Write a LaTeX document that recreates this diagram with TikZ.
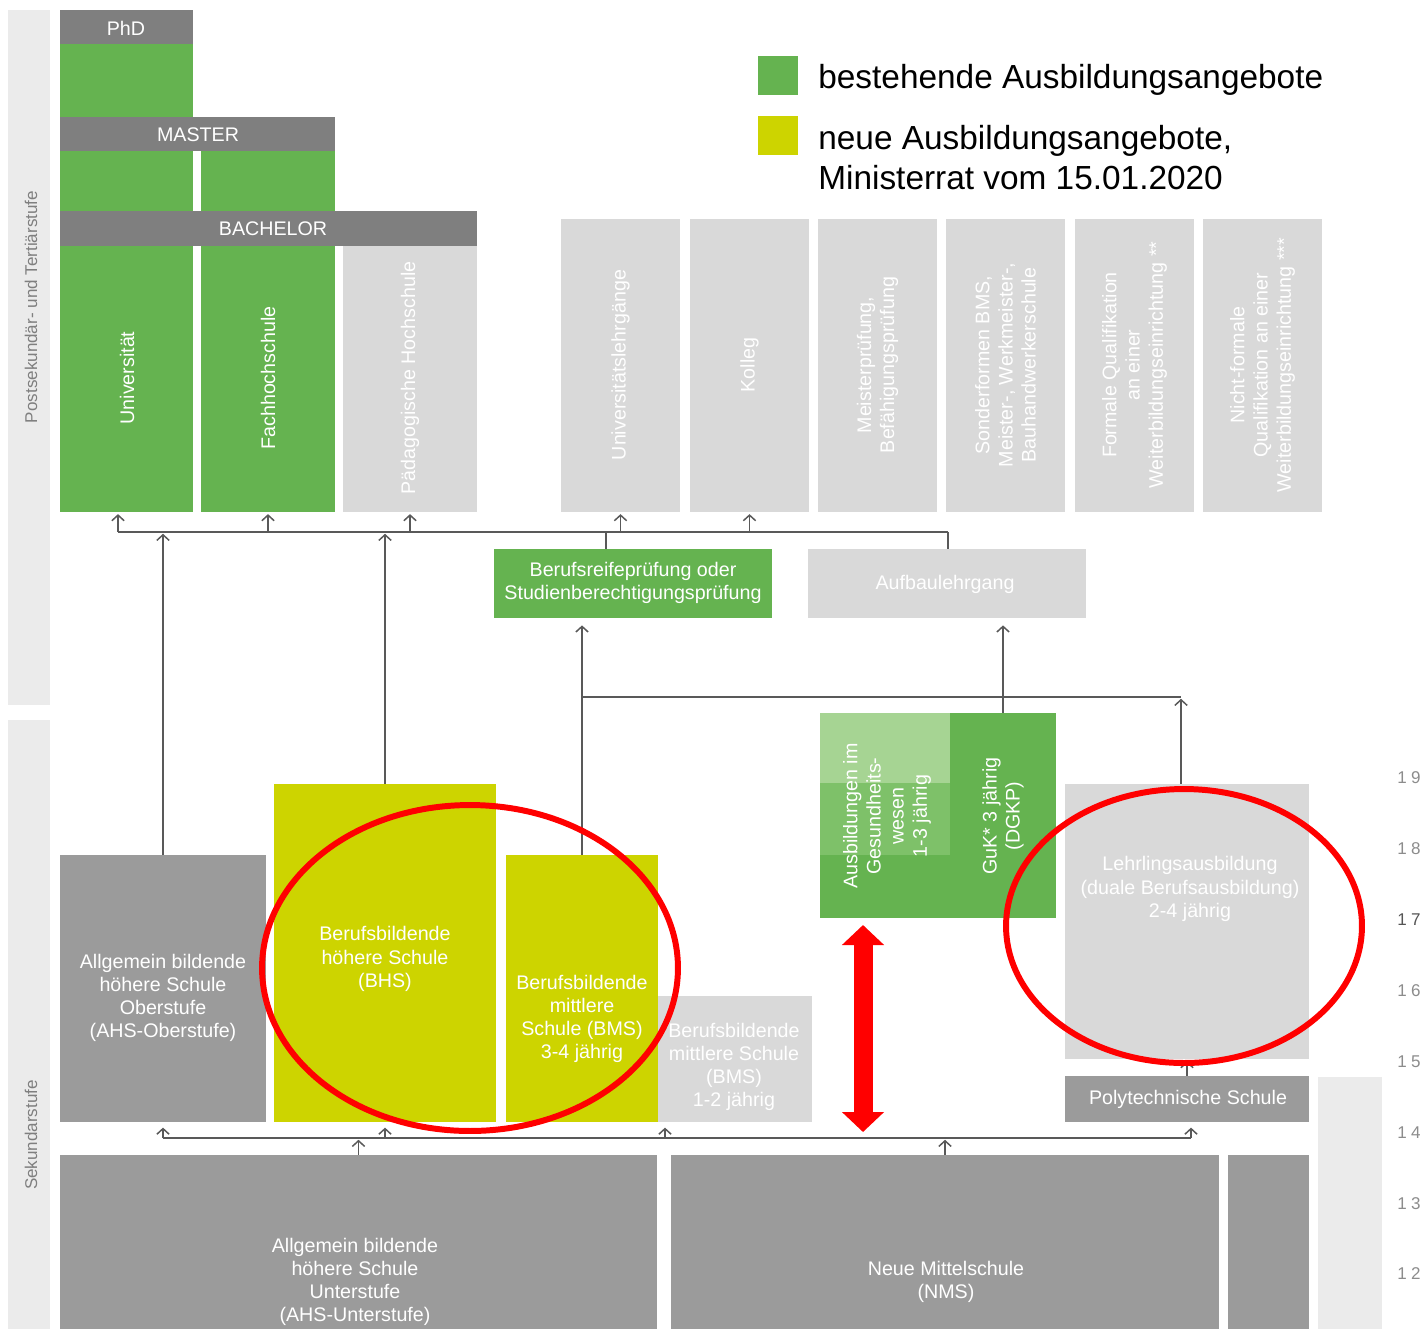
\documentclass[tikz,border=0pt]{standalone}
\usepackage{fontspec}
\setmainfont{Liberation Sans}
\usepackage{tikz}
\usetikzlibrary{fit,arrows.meta}

\definecolor{eduGreen}{HTML}{65B350}
\definecolor{eduLightGreen}{HTML}{A6D493}
\definecolor{eduMidGreen}{HTML}{7EC169}
\definecolor{eduYellow}{HTML}{CDD400}
\definecolor{barGray}{HTML}{7F7F7F}
\definecolor{darkBox}{HTML}{9B9B9B}
\definecolor{lightBox}{HTML}{D9D9D9}
\definecolor{bandGray}{HTML}{EBEBEB}
\definecolor{lineGray}{HTML}{595959}
\definecolor{ageGray}{HTML}{8C8C8C}
\definecolor{ageDark}{HTML}{555555}

\newcommand{\boxfont}{\fontsize{11.2}{13.2}\selectfont}
\newcommand{\legendfont}{\fontsize{19}{22.7}\selectfont}

\tikzset{
  bar/.style={fill=barGray, inner sep=0pt},
  exist/.style={fill=eduGreen, inner sep=0pt},
  new/.style={fill=eduYellow, inner sep=0pt},
  dark/.style={fill=darkBox, inner sep=0pt},
  other/.style={fill=lightBox, inner sep=0pt},
  band/.style={fill=bandGray, inner sep=0pt},
  boxtext/.style={text=white, font=\boxfont, align=center, inner sep=0pt},
  sidetext/.style={text=barGray, font=\fontsize{9.7}{11}\selectfont, inner sep=0pt},
  legendtext/.style={text=black, font=\legendfont, align=left, inner sep=0pt},
  link/.style={draw=lineGray, line width=0.85pt},
  uplink/.style={link, -{Straight Barb[length=3.2pt,width=7pt]}, shorten >=1pt},
  highlight/.style={draw=red, line width=3.4pt},
  redarrow/.style={draw=red, line width=0.38cm,
    {Triangle[length=0.4cm,width=0.82cm]}-{Triangle[length=0.4cm,width=0.82cm]}}
}

% a filled box between two corners: name, style, x1, y1, x2, y2
\newcommand{\eduBox}[6]{
  \node[#2, fit={(#3,#4) (#5,#6)}] (#1) {};
}

\begin{document}
\begin{tikzpicture}[x=0.02cm, y=-0.02cm]
  \useasboundingbox (0,0) rectangle (1422,1329);

  % Draw the side bands
  \eduBox{bandtop}{band}{8}{10}{50}{705}
  \eduBox{bandbot}{band}{8}{720}{50}{1329}
  \eduBox{bandright}{band}{1318}{1077}{1382}{1329}
  \node[sidetext, rotate=90] at (31,307) {Postsekundär- und Tertiärstufe};
  \node[sidetext, rotate=90] at (31,1135) {Sekundarstufe};

  % Tertiary columns with the degree bars
  \eduBox{uni}{exist}{60}{44}{193}{512}
  \eduBox{fh}{exist}{201}{151}{335}{512}
  \eduBox{ph}{other}{343}{246}{477}{512}
  \eduBox{phd}{bar}{60}{10}{193}{44}
  \eduBox{master}{bar}{60}{117}{335}{151}
  \eduBox{bachelor}{bar}{60}{211}{477}{246}
  \node[boxtext] at (126,28) {PhD};
  \node[boxtext] at (198,135) {MASTER};
  \node[boxtext] at (273,229) {BACHELOR};
  \node[boxtext, rotate=90] at (127,378) {Universität};
  \node[boxtext, rotate=90] at (268,378) {Fachhochschule};
  \node[boxtext, rotate=90] at (410,378) {Pädagogische Hochschule};

  % Further education columns
  \foreach \name/\xa/\txt in {ulg/561/Universitätslehrgänge,
      kolleg/690/Kolleg,
      meister/818/{Meisterprüfung,\\Befähigungsprüfung},
      sonder/946/{Sonderformen BMS,\\Meister-, Werkmeister-,\\Bauhandwerkerschule},
      formal/1075/{Formale Qualifikation\\an einer\\Weiterbildungseinrichtung **},
      nonformal/1203/{Nicht-formale\\Qualifikation an einer\\Weiterbildungseinrichtung ***}} {
    \eduBox{\name}{other}{\xa}{219}{\xa+119}{512}
    \node[boxtext, rotate=90] at (\xa+59.5,365) {\txt};
  }

  % Draw the Legend
  \eduBox{legold}{exist}{758}{56}{798}{95}
  \eduBox{legnew}{new}{758}{116}{798}{155}
  \node[legendtext, anchor=west] at (818,80) {bestehende Ausbildungsangebote};
  \node[legendtext, anchor=west] at (818,158) {neue Ausbildungsangebote,\\Ministerrat vom 15.01.2020};

  % Middle level
  \eduBox{brp}{exist}{494}{549}{772}{618}
  \eduBox{aufbau}{other}{808}{549}{1086}{618}
  \node[boxtext] at (633,583) {Berufsreifeprüfung oder\\Studienberechtigungsprüfung};
  \node[boxtext] at (945,584) {Aufbaulehrgang};

  % Health care training
  \eduBox{ausb}{exist}{820}{713}{950}{918}
  \eduBox{guk}{exist}{950}{713}{1056}{918}
  \fill[eduLightGreen] (820,713) rectangle (950,783);
  \fill[eduMidGreen] (820,783) rectangle (950,855);
  \node[boxtext, rotate=90] at (887,816) {Ausbildungen im\\Gesundheits-\\wesen\\1-3 jährig};
  \node[boxtext, rotate=90] at (1003,816) {GuK* 3 jährig\\(DGKP)};

  % Upper secondary schools
  \eduBox{ahso}{dark}{60}{855}{266}{1122}
  \eduBox{bhs}{new}{274}{784}{496}{1122}
  \eduBox{bms}{new}{506}{855}{658}{1122}
  \eduBox{bmsk}{other}{658}{996}{812}{1122}
  \eduBox{lehr}{other}{1065}{784}{1309}{1059}
  \eduBox{poly}{dark}{1065}{1076}{1309}{1122}
  \node[boxtext] at (163,998) {Allgemein bildende\\höhere Schule\\Oberstufe\\(AHS-Oberstufe)};
  \node[boxtext] at (385,959) {Berufsbildende\\höhere Schule\\(BHS)};
  \node[boxtext] at (582,1019) {Berufsbildende\\mittlere\\Schule (BMS)\\3-4 jährig};
  \node[boxtext] at (734,1067) {Berufsbildende\\mittlere Schule\\(BMS)\\1-2 jährig};
  \node[boxtext] at (1190,889) {Lehrlingsausbildung\\(duale Berufsausbildung)\\2-4 jährig};
  \node[boxtext] at (1188,1099) {Polytechnische Schule};

  % Lower secondary schools
  \eduBox{ahsu}{dark}{60}{1155}{657}{1329}
  \eduBox{nms}{dark}{671}{1155}{1219}{1329}
  \eduBox{vs}{dark}{1228}{1155}{1309}{1329}
  \node[boxtext] at (355,1282) {Allgemein bildende\\höhere Schule\\Unterstufe\\(AHS-Unterstufe)};
  \node[boxtext] at (946,1282) {Neue Mittelschule\\(NMS)};

  % Age scale
  \foreach \a/\b/\y/\c in {1/9/778/ageGray, 1/8/849/ageGray, 1/7/920/ageDark,
      1/6/991/ageGray, 1/5/1062/ageGray, 1/4/1133/ageGray, 1/3/1204/ageGray, 1/2/1274/ageGray} {
    \node[sidetext, text=\c] (age\a\b) at (1409,\y) {\a\kern2.5pt\b};
  }

  % Upper trunk
  \coordinate (tl) at (118,532);
  \coordinate (tr) at (948,532);
  \coordinate (j1) at (606,532);
  \draw[link] (tl) -- (tr);
  \draw[uplink] (tl) -- (tl |- uni.south);
  \foreach \n in {fh, ph, ulg, kolleg}
    \draw[uplink] (\n.south |- tl) -- (\n.south);
  \draw[link] (j1) -- (j1 |- brp.north);
  \draw[link] (tr) -- (tr |- aufbau.north);
  \draw[uplink] (ahso.north) -- (ahso.north |- tl);
  \draw[uplink] (bhs.north) -- (bhs.north |- tl);

  % Middle connections
  \coordinate (j2) at (1181,697);
  \draw[uplink, shorten >=4pt] (bms.north) -- (bms.north |- brp.south);
  \draw[link] (bms.north |- j2) -- (j2);
  \draw[uplink] (j2 |- lehr.north) -- (j2);
  \draw[uplink, shorten >=4pt] (guk.north) -- (guk.north |- aufbau.south);

  % Lower trunk
  \coordinate (bl) at (163,1138);
  \coordinate (br) at (1191,1138);
  \coordinate (j3) at (665,1138);
  \draw[link] (bl) -- (br);
  \draw[uplink, shorten >=3pt] (bl) -- (ahso.south);
  \draw[uplink, shorten >=3pt] (bhs.south |- bl) -- (bhs.south);
  \draw[uplink, shorten >=3pt] (j3) -- (j3 |- bmsk.south);
  \draw[uplink, shorten >=3pt] (br) -- (br |- poly.south);
  \draw[uplink] (ahsu.north) -- (ahsu.north |- bl);
  \draw[uplink] (nms.north) -- (nms.north |- bl);
  \draw[uplink] (poly.north) -- (poly.north |- lehr.south);

  % Red marks
  \draw[highlight] (470,968) ellipse [x radius=4.16cm, y radius=3.26cm];
  \draw[highlight] (1184,926) ellipse [x radius=3.56cm, y radius=2.74cm];
  \coordinate (redtop) at (863,925);
  \coordinate (redbot) at (863,1132);
  \draw[redarrow] (redtop) -- (redbot);
\end{tikzpicture}
\end{document}
